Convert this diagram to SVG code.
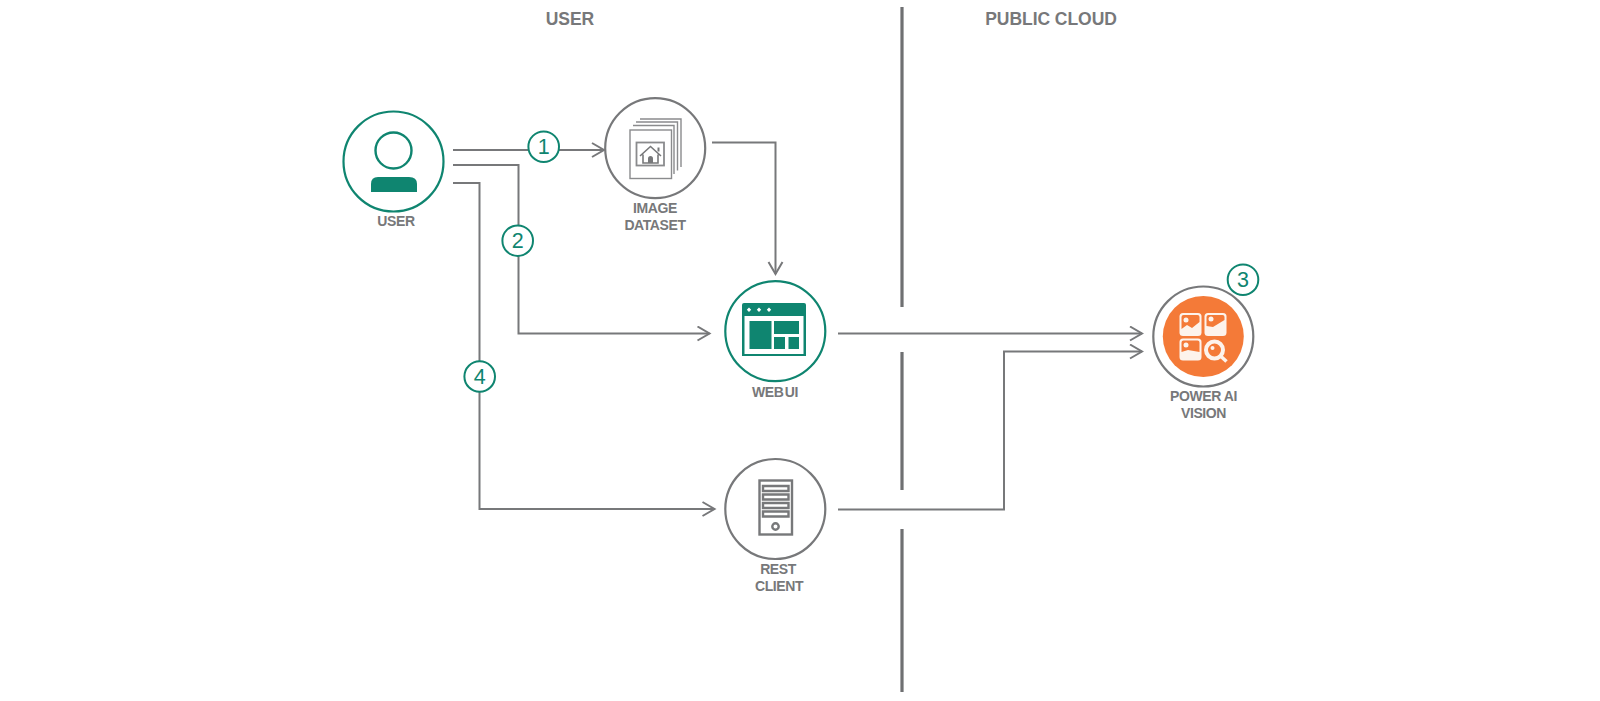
<svg xmlns="http://www.w3.org/2000/svg" width="1600" height="701" viewBox="0 0 1600 701">
<style>
text{font-family:"Liberation Sans",Arial,sans-serif;fill:#77787a;text-anchor:middle}
.h{font-size:17.5px;font-weight:700;letter-spacing:-.05px}
.l{font-size:14px;font-weight:700;letter-spacing:-.4px}
.n{font-size:21.500px;fill:#0f8570}
.cg{fill:#fff;stroke:#77787a;stroke-width:2.2}
.ct{fill:#fff;stroke:#0f8570;stroke-width:2.2}
.c{fill:none;stroke:#77787a;stroke-width:2}
.d{stroke:#6f7072;stroke-width:3.2;fill:none}
.b{fill:#fff;stroke:#0f8570;stroke-width:2}
.g{fill:none;stroke:#8a8b8d;stroke-width:1.4}
.t{fill:#0f8570}
.o{fill:#fdf3ec}
</style>
<defs>
<marker id="a" markerUnits="userSpaceOnUse" markerWidth="16" markerHeight="18" refX="13" refY="8" orient="auto"><path d="M1 1L13 8L1 15" fill="none" stroke="#77787a" stroke-width="2"/></marker>
</defs>
<text class="h" x="570" y="24.500">USER</text>
<text class="h" x="1051" y="25">PUBLIC CLOUD</text>
<g id="dividers">
<path class="d" d="M902 7V307M902 352V490M902 529V692"/>
</g>
<g id="connectors">
<path class="c" d="M453 150H604" marker-end="url(#a)"/>
<path class="c" d="M453 165H518.500V333.500H709.500" marker-end="url(#a)"/>
<path class="c" d="M453 183H479.500V509H714.500" marker-end="url(#a)"/>
<path class="c" d="M712 142.500H775.500V274" marker-end="url(#a)"/>
<path class="c" d="M838 333.500H1142" marker-end="url(#a)"/>
<path class="c" d="M838 509.500H1004V351.500H1142" marker-end="url(#a)"/>
</g>
<g id="user">
<circle class="ct" cx="393.500" cy="161.500" r="50"/>
<circle cx="393.500" cy="150.500" r="18" fill="#fff" stroke="#0f8570" stroke-width="2.400"/>
<path class="t" d="M371 192V184Q371 177 378 177H409Q417 177 417 184V192Z"/>
<text class="l" x="396" y="226">USER</text>
</g>
<g id="image-dataset">
<circle class="cg" cx="655.200" cy="148.200" r="50"/>
<path class="g" d="M640 119H681V167"/>
<path class="g" d="M636 122H677.500V170.500"/>
<path class="g" d="M633 125.500H674V174"/>
<rect class="g" x="630" y="130" width="41.500" height="48.500" style="fill:#fff"/>
<rect class="g" x="636.500" y="142.500" width="27.500" height="23" style="stroke-width:1.800"/>
<path d="M640 156L650.500 146.500L661 156M643 154.500V163H658V154.500" fill="none" stroke="#77787a" stroke-width="1.600"/>
<path d="M648 163V158.500A2.500 2.500 0 0 1 653 158.500V163Z" fill="#77787a"/>
<path d="M657.500 147.500h2v4h-2z" fill="#77787a"/>
<text class="l" x="655" y="213">IMAGE</text>
<text class="l" x="655" y="230">DATASET</text>
</g>
<g id="web-ui">
<circle class="ct" cx="775.300" cy="331.200" r="50"/>
<path class="t" d="M742 305Q742 303 744 303H804Q806 303 806 305V356H742Z"/>
<rect x="744.500" y="316" width="59" height="38" fill="#fff"/>
<rect class="t" x="749.500" y="321" width="22" height="28"/>
<rect class="t" x="774" y="321" width="25" height="13"/>
<rect class="t" x="774" y="337" width="11" height="12"/>
<rect class="t" x="788.500" y="337" width="10.500" height="12"/>
<path d="M749 307.500l2.200 2.200-2.200 2.200-2.200-2.200zM759 307.500l2.200 2.200-2.200 2.200-2.200-2.200zM769 307.500l2.200 2.200-2.200 2.200-2.200-2.200z" fill="#fff"/>
<text class="l" x="775" y="397" style="word-spacing:-2px">WEB UI</text>
</g>
<g id="rest-client">
<circle class="cg" cx="775.300" cy="509" r="50"/>
<rect x="759.500" y="480.500" width="32.500" height="54" fill="#fff" stroke="#77787a" stroke-width="2.400"/>
<path d="M763 486h25.500v5H763zM763 494.500h25.500v5H763zM763 503h25.500v5H763zM763 511.500h25.500v5H763z" fill="#fff" stroke="#77787a" stroke-width="2.400"/>
<circle cx="775.500" cy="526.500" r="3.200" fill="#fff" stroke="#77787a" stroke-width="2.400"/>
<text class="l" x="778" y="574">REST</text>
<text class="l" x="779" y="591">CLIENT</text>
</g>
<g id="power-ai-vision">
<circle class="cg" cx="1203.300" cy="336.500" r="50"/>
<circle cx="1203.300" cy="336.500" r="40.500" fill="#f47a38"/>
<g class="o">
<rect x="1179.500" y="313" width="22" height="23" rx="3.500"/>
<rect x="1204.500" y="313" width="22" height="23" rx="3.500"/>
<rect x="1179.500" y="338.500" width="22" height="22" rx="3.500"/>
</g>
<g fill="#f47a38">
<path d="M1181.500 329L1187 325L1192 328L1199.500 322V317Q1199.500 315 1197.500 315H1183.500Q1181.500 315 1181.500 317Z"/>
<path d="M1206.500 326L1213 327L1224.500 320V317Q1224.500 315 1222.500 315H1208.500Q1206.500 315 1206.500 317Z"/>
<path d="M1181.500 352L1188 350L1199.500 352V342.500Q1199.500 340.500 1197.500 340.500H1183.500Q1181.500 340.500 1181.500 342.500Z"/>
</g>
<circle class="o" cx="1186" cy="320" r="2.500"/>
<circle class="o" cx="1211" cy="319" r="2.500"/>
<circle class="o" cx="1186" cy="345" r="2.500"/>
<circle cx="1214.500" cy="350" r="8.500" fill="#f47a38" stroke="#fdf3ec" stroke-width="4"/>
<path d="M1220.500 356L1226.500 361.500" stroke="#fdf3ec" stroke-width="3.500" fill="none"/>
<circle class="o" cx="1212.500" cy="348" r="2"/>
<text class="l" x="1203.500" y="401">POWER AI</text>
<text class="l" x="1203.500" y="418">VISION</text>
</g>
<g id="badges">
<circle class="b" cx="543.700" cy="146.700" r="15.300"/><text class="n" x="543.700" y="154">1</text>
<circle class="b" cx="517.700" cy="240.700" r="15.300"/><text class="n" x="517.700" y="248">2</text>
<circle class="b" cx="1243" cy="279.700" r="15.300"/><text class="n" x="1243" y="287">3</text>
<circle class="b" cx="479.700" cy="376.500" r="15.300"/><text class="n" x="479.700" y="383.800">4</text>
</g>
</svg>
